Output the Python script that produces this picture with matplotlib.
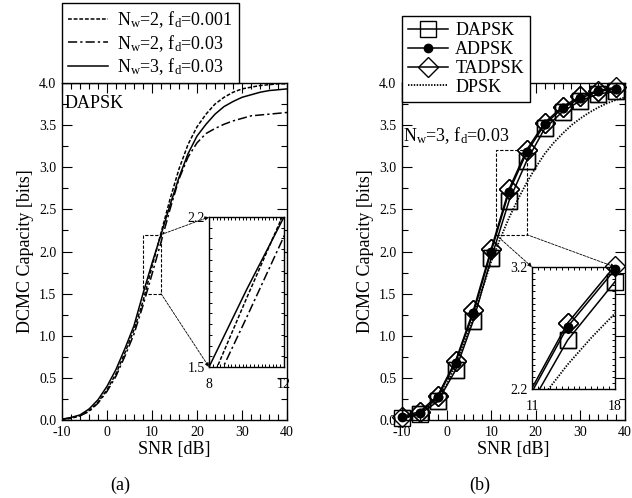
import numpy as np
import matplotlib
matplotlib.use("Agg")
import matplotlib.pyplot as plt
from matplotlib.ticker import MultipleLocator, FixedLocator
from matplotlib.patches import Rectangle, ConnectionPatch

plt.rcParams['font.family'] = ['Liberation Serif', 'DejaVu Serif']
plt.rcParams['mathtext.fontset'] = 'custom'
plt.rcParams['mathtext.rm'] = 'Liberation Serif'
plt.rcParams['mathtext.it'] = 'Liberation Serif:italic'
plt.rcParams['axes.unicode_minus'] = False

# (a) DAPSK, curves sampled every 2 dB
snr_a = [-10, -8, -6, -4, -2, 0, 2, 4, 6, 8, 10, 12, 14, 16, 18, 20,
         22, 24, 26, 28, 30, 32, 34, 36, 38, 40]
cap_nw2_fd001 = [0.01, 0.02, 0.05, 0.11, 0.21, 0.36, 0.55, 0.80, 1.07, 1.41,
                 1.82, 2.22, 2.62, 2.98, 3.27, 3.48, 3.63, 3.75, 3.83, 3.89,
                 3.93, 3.95, 3.97, 3.98, 3.99, 3.99]
cap_nw2_fd03 = [0.01, 0.02, 0.05, 0.10, 0.20, 0.34, 0.52, 0.76, 1.02, 1.36,
                1.73, 2.11, 2.50, 2.86, 3.12, 3.29, 3.40, 3.46, 3.51, 3.55,
                3.58, 3.61, 3.62, 3.63, 3.64, 3.65]
cap_nw3_fd03 = [0.01, 0.03, 0.06, 0.13, 0.24, 0.40, 0.60, 0.85, 1.12, 1.50,
                1.86, 2.20, 2.55, 2.88, 3.16, 3.37, 3.51, 3.63, 3.72, 3.78,
                3.83, 3.86, 3.89, 3.91, 3.92, 3.93]

# (b) N_w=3, f_d=0.03, markers every 4 dB
snr_b = [-10, -6, -2, 2, 6, 10, 14, 18, 22, 26, 30, 34, 38]
cap_dapsk = [0.02, 0.07, 0.22, 0.59, 1.18, 1.92, 2.60, 3.08, 3.46, 3.66,
             3.79, 3.87, 3.90]
cap_adpsk = [0.03, 0.08, 0.27, 0.68, 1.27, 2.00, 2.71, 3.18, 3.51, 3.70,
             3.82, 3.90, 3.93]
cap_tadpsk = [0.04, 0.10, 0.29, 0.70, 1.30, 2.03, 2.74, 3.21, 3.53, 3.72,
              3.84, 3.91, 3.95]
snr_dpsk = [-10, -8, -6, -4, -2, 0, 2, 4, 6, 8, 10, 12, 14, 16, 18, 20,
            22, 24, 26, 28, 30, 32, 34, 36, 38, 40]
cap_dpsk = [0.02, 0.04, 0.08, 0.15, 0.26, 0.42, 0.65, 0.92, 1.22, 1.55,
            1.88, 2.15, 2.40, 2.62, 2.82, 3.00, 3.16, 3.29, 3.40, 3.50,
            3.58, 3.65, 3.71, 3.76, 3.80, 3.83]

W, H = 632, 498
fig = plt.figure(figsize=(W / 100, H / 100), dpi=100)


def px_axes(x0, y0, x1, y1):
    # pixel box (top-left origin) -> figure axes
    return fig.add_axes([x0 / W, 1 - y1 / H, (x1 - x0) / W, (y1 - y0) / H])


def style_main(ax):
    ax.set_xlim(-10, 40)
    ax.set_ylim(0, 4)
    ax.xaxis.set_major_locator(MultipleLocator(10))
    ax.xaxis.set_minor_locator(MultipleLocator(2))
    ax.yaxis.set_major_locator(MultipleLocator(0.5))
    ax.yaxis.set_minor_locator(MultipleLocator(0.25))
    ax.yaxis.set_major_formatter(plt.FormatStrFormatter('%.1f'))
    ax.tick_params(which='both', direction='in', top=True, right=True,
                   labelsize=10, width=0.8)
    ax.tick_params(which='major', length=7, pad=4)
    ax.tick_params(which='minor', length=4)
    ax.set_xlabel('SNR [dB]', fontsize=13, labelpad=2)
    ax.set_ylabel('DCMC Capacity [bits]', fontsize=13, labelpad=4)
    for s in ax.spines.values():
        s.set_linewidth(1.0)


def style_inset(ax, xlim, ylim, xminor, ylabels):
    ax.set_xlim(*xlim)
    ax.set_ylim(*ylim)
    ax.xaxis.set_major_locator(FixedLocator(list(xlim)))
    ax.yaxis.set_major_locator(FixedLocator(list(ylim)))
    ax.xaxis.set_minor_locator(MultipleLocator(xminor))
    ax.yaxis.set_minor_locator(MultipleLocator(0.05))
    ax.set_xticklabels([str(v) for v in xlim])
    ax.set_yticklabels(ylabels)
    ax.tick_params(which='both', direction='in', top=True, right=True,
                   labelsize=10, width=0.7)
    ax.tick_params(axis='x', which='major', length=0, pad=8)
    ax.tick_params(axis='y', which='major', length=0, pad=3)
    ax.tick_params(which='minor', length=2.5)
    for s in ax.spines.values():
        s.set_linewidth(1.0)


lw = 1.1
dash = (0, (2.5, 1.2))
dashdot = (0, (6, 2, 1.5, 2))

# ---------------- (a) ----------------
axa = px_axes(62, 83, 287, 420)
style_main(axa)
axa.plot(snr_a, cap_nw2_fd001, color='k', lw=lw, ls=dash,
         label=r'N$_\mathrm{w}$=2, f$_\mathrm{d}$=0.001')
axa.plot(snr_a, cap_nw2_fd03, color='k', lw=lw, ls=dashdot,
         label=r'N$_\mathrm{w}$=2, f$_\mathrm{d}$=0.03')
axa.plot(snr_a, cap_nw3_fd03, color='k', lw=lw, ls='-',
         label=r'N$_\mathrm{w}$=3, f$_\mathrm{d}$=0.03')
axa.text(-9.4, 3.76, 'DAPSK', fontsize=13, va='center', ha='left')
axa.add_patch(Rectangle((8, 1.5), 4, 0.7, fill=False, ls=(0, (3, 1.5)),
                        lw=0.8, color='k'))
fig.legend(*axa.get_legend_handles_labels(), loc='upper left',
           bbox_to_anchor=(62 / W, 1 - 3 / H), fontsize=13, frameon=True,
           fancybox=False, edgecolor='k', framealpha=1, handlelength=2.2,
           borderpad=0.35, labelspacing=0.15, handletextpad=0.5,
           borderaxespad=0).get_frame().set_linewidth(1.0)

insa = px_axes(209, 217, 284, 367)
style_inset(insa, (8, 12), (1.5, 2.2), 0.2, ['1.5', '2.2'])
insa.plot(snr_a, cap_nw2_fd001, color='k', lw=lw, ls=dash)
insa.plot(snr_a, cap_nw2_fd03, color='k', lw=lw, ls=dashdot)
insa.plot(snr_a, cap_nw3_fd03, color='k', lw=lw, ls='-')

for (xa, ya), (xb, yb) in [((12, 2.2), (8, 2.2)), ((12, 1.5), (8, 1.5))]:
    con = ConnectionPatch(xyA=(xa, ya), coordsA=axa.transData,
                          xyB=(xb, yb), coordsB=insa.transData,
                          arrowstyle='-|>', mutation_scale=6,
                          ls=(0, (3, 1.5)), lw=0.6, color='k')
    fig.add_artist(con)

# ---------------- (b) ----------------
axb = px_axes(402, 83, 625, 420)
style_main(axb)

series_b = [
    (cap_dapsk, dict(marker='s', ms=11, mfc='none', mew=1.0), 'DAPSK'),
    (cap_adpsk, dict(marker='o', ms=6, mfc='k'), 'ADPSK'),
    (cap_tadpsk, dict(marker='D', ms=10, mfc='none', mew=1.0), 'TADPSK'),
]


def draw_b(ax, xlim=None):
    for ys, mk, name in series_b:
        ax.plot(snr_b, ys, color='k', lw=lw, mec='k', label=name, **mk)
        # markers may hang over the frame
        if xlim is None:
            sel = range(len(snr_b))
        else:
            sel = [i for i, x in enumerate(snr_b) if xlim[0] <= x <= xlim[1]]
        ax.plot([snr_b[i] for i in sel], [ys[i] for i in sel], ls='none',
                color='k', mec='k', clip_on=False, **mk)
    ax.plot(snr_dpsk, cap_dpsk, color='k', lw=1.3, ls=(0, (0.8, 0.8)),
            label='DPSK')


draw_b(axb)
axb.text(-9.7, 3.38, r'N$_\mathrm{w}$=3, f$_\mathrm{d}$=0.03', fontsize=13,
         va='center', ha='left')
axb.add_patch(Rectangle((11, 2.2), 7, 1.0, fill=False, ls=(0, (3, 1.5)),
                        lw=0.8, color='k'))
legb = fig.legend(*axb.get_legend_handles_labels(), loc='upper left',
                  bbox_to_anchor=(402 / W, 1 - 16 / H), fontsize=13,
                  frameon=True, fancybox=False, edgecolor='k', framealpha=1,
                  handlelength=2.2, borderpad=0.35, labelspacing=0.1,
                  handletextpad=0.4, borderaxespad=0)
legb.get_frame().set_linewidth(1.0)

insb = px_axes(532, 267, 615, 389)
style_inset(insb, (11, 18), (2.2, 3.2), 0.5, ['2.2', '3.2'])
draw_b(insb, xlim=(11, 18))

for (xa, ya), (xb, yb) in [((11, 2.2), (11, 3.2)), ((18, 2.2), (18, 3.2))]:
    con = ConnectionPatch(xyA=(xa, ya), coordsA=axb.transData,
                          xyB=(xb, yb), coordsB=insb.transData,
                          arrowstyle='-|>', mutation_scale=6,
                          ls=(0, (3, 1.5)), lw=0.6, color='k')
    fig.add_artist(con)

fig.text(120 / W, 1 - 485 / H, '(a)', fontsize=13, ha='center', va='center')
fig.text(480 / W, 1 - 485 / H, '(b)', fontsize=13, ha='center', va='center')

fig.savefig('out.png', dpi=100)
